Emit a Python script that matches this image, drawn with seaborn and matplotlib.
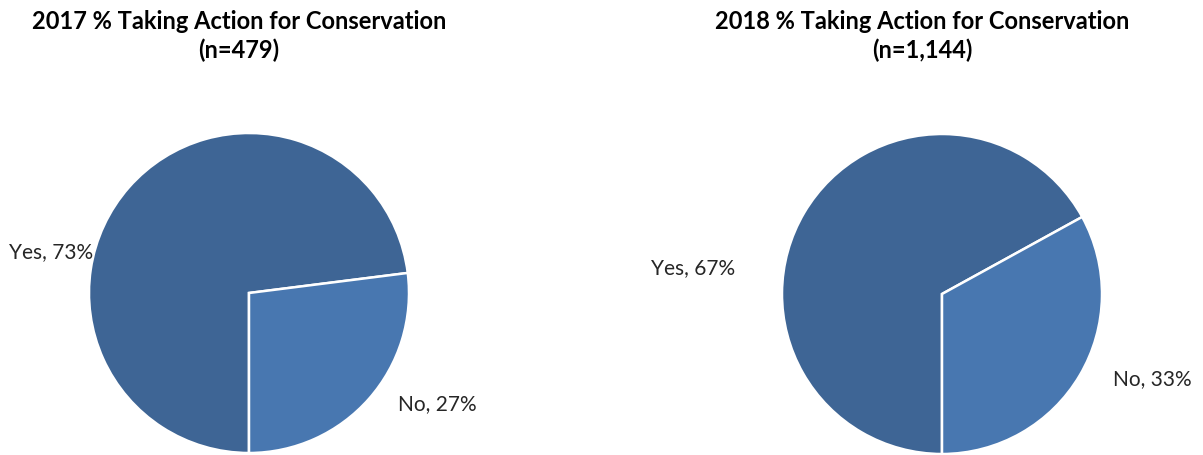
import matplotlib
matplotlib.use("Agg")
import matplotlib.pyplot as plt
import seaborn as sns

# Survey results: share of respondents taking action for conservation
categories = ["Yes", "No"]
values_2017 = [73, 27]
values_2018 = [67, 33]
titles = [
    "2017 % Taking Action for Conservation\n(n=479)",
    "2018 % Taking Action for Conservation\n(n=1,144)",
]

sns.set_theme(style="white")
plt.rcParams["font.family"] = ["Lato", "DejaVu Sans"]

colors = ["#3E6595", "#4877B0"]
W, H = 1203, 456

fig = plt.figure(figsize=(W / 100, H / 100), dpi=100)
ax = fig.add_axes([0, 0, 1, 1])

# pie centres and radius in pixel units (y measured from the bottom)
pies = [
    dict(vals=values_2017, center=(249, H - 294), title_x=239,
         label_pos=[(51, H - 252), (437, H - 404)]),
    dict(vals=values_2018, center=(942, H - 295), title_x=922,
         label_pos=[(693, H - 268), (1152, H - 379)]),
]
R = 160

for p, title in zip(pies, titles):
    ax.pie(p["vals"], colors=colors, startangle=-90, counterclock=False,
           center=p["center"], radius=R,
           wedgeprops=dict(edgecolor="white", linewidth=1.8))
    for (lx, ly), cat, v in zip(p["label_pos"], categories, p["vals"]):
        ax.text(lx, ly, f"{cat}, {v}%", ha="center", va="center",
                fontsize=15, color="#262626")
    ax.text(p["title_x"], H - 36, title, ha="center", va="center",
            fontsize=17, fontweight="bold", color="#000000",
            linespacing=1.3)

ax.set_xlim(0, W)
ax.set_ylim(0, H)
ax.set_aspect("auto")
ax.axis("off")

fig.savefig("out.png", dpi=100, facecolor="white")
